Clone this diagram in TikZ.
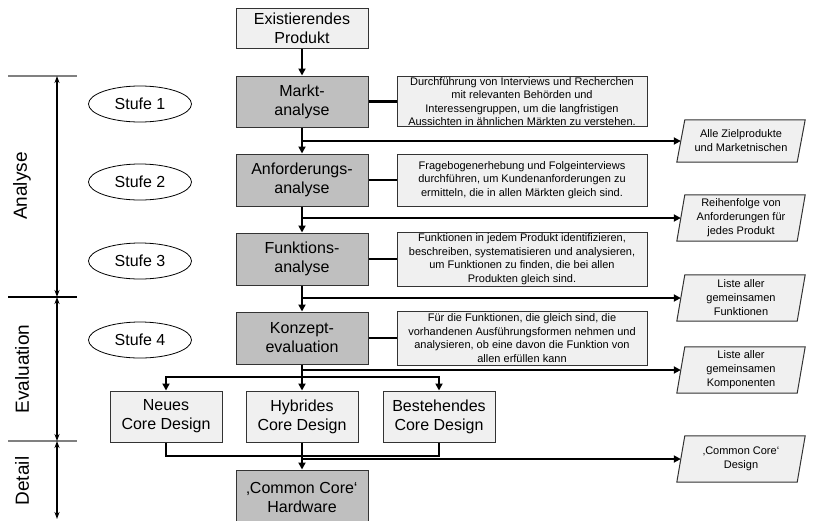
\documentclass[tikz,border=0pt]{standalone}
\usepackage{fontspec}
\setmainfont{Liberation Sans}
\usetikzlibrary{arrows.meta,calc,backgrounds,shapes.geometric}

\tikzset{
  boxbase/.style={draw=black!80, line width=1pt, align=center, inner sep=0pt,
    font=\fontsize{16}{19}\selectfont},
  lightbox/.style={boxbase, fill=gray!12, minimum width=132},
  darkbox/.style={boxbase, fill=gray!50, minimum width=132},
  designbox/.style={boxbase, fill=gray!12, minimum width=112, minimum height=51},
  desc/.style={draw=black!80, line width=1pt, fill=gray!12, align=center, inner sep=0pt,
    minimum width=250, font=\fontsize{11}{13.5}\selectfont},
  outbox/.style={align=center, inner sep=0pt, minimum width=120,
    font=\fontsize{11}{14}\selectfont},
  parashape/.style={draw=black!80, line width=1pt, fill=gray!12},
  stufe/.style={draw=black, line width=0.8pt, ellipse, minimum width=103, minimum height=36,
    inner sep=0pt, font=\fontsize{16}{19}\selectfont},
  phaselabel/.style={rotate=90, inner sep=0pt, font=\fontsize{19}{22}\selectfont},
  conn/.style={line width=2.2pt, -{Triangle[length=7pt,width=7pt]}},
  link/.style={line width=2.2pt},
  phasearrow/.style={line width=1.8pt, {Stealth[length=7pt,width=5pt]}-{Stealth[length=7pt,width=5pt]}},
  sepline/.style={line width=1.2pt},
}

\begin{document}
\begin{tikzpicture}[x=1pt, y=-1pt]
\useasboundingbox (0,0) rectangle (818,520);
\clip (0,0) rectangle (818,520);

% main column
\node[lightbox, minimum height=40] (ex) at (302,28) {Existierendes\\Produkt};
\node[darkbox, minimum height=51] (markt) at (302,101.5) {Markt-\\analyse};
\node[darkbox, minimum height=52] (anf) at (302,180) {Anforderungs-\\analyse};
\node[darkbox, minimum height=52] (funk) at (302,259) {Funktions-\\analyse};
\node[darkbox, minimum height=52] (konz) at (302,338) {Konzept-\\evaluation};
\node[darkbox, minimum height=54] (cch) at (302,497) {‚Common Core‘\\Hardware};

% design alternatives
\node[designbox] (neu) at (166,416.5) {Neues\\Core Design};
\node[designbox] (hyb) at (302,416.5) {Hybrides\\Core Design};
\node[designbox] (best) at (439,416.5) {Bestehendes\\Core Design};

% descriptions of the stages
\node[desc, minimum height=50] (d1) at (522,101.5) {Durchführung von Interviews und Recherchen\\mit relevanten Behörden und\\Interessengruppen, um die langfristigen\\Aussichten in ähnlichen Märkten zu verstehen.};
\node[desc, minimum height=52] (d2) at (522,180) {Fragebogenerhebung und Folgeinterviews\\durchführen, um Kundenanforderungen zu\\ermitteln, die in allen Märkten gleich sind.};
\node[desc, minimum height=54] (d3) at (522,259) {Funktionen in jedem Produkt identifizieren,\\beschreiben, systematisieren und analysieren,\\um Funktionen zu finden, die bei allen\\Produkten gleich sind.};
\node[desc, minimum height=54] (d4) at (522,338) {Für die Funktionen, die gleich sind, die\\vorhandenen Ausführungsformen nehmen und\\analysieren, ob eine davon die Funktion von\\allen erfüllen kann};

% results
\node[outbox, minimum height=42] (p1) at (741,141) {Alle Zielprodukte\\und Marketnischen};
\node[outbox, minimum height=46] (p2) at (741,218) {Reihenfolge von\\Anforderungen für\\jedes Produkt};
\node[outbox, minimum height=46] (p3) at (741,298) {Liste aller\\gemeinsamen\\Funktionen};
\node[outbox, minimum height=46] (p4) at (741,370) {Liste aller\\gemeinsamen\\Komponenten};
\node[outbox, minimum height=46] (p5) at (741,459) {‚Common Core‘\\Design};

\begin{scope}[on background layer]
  \foreach \p in {p1,p2,p3,p4,p5}
    \draw[parashape] ($(\p.south west)+(-4,0)$) -- ($(\p.north west)+(4,0)$)
      -- ($(\p.north east)+(4,0)$) -- ($(\p.south east)+(-4,0)$) -- cycle;
\end{scope}

% stages
\node[stufe] (s1) at (140,104) {Stufe 1};
\node[stufe] (s2) at (140,182) {Stufe 2};
\node[stufe] (s3) at (140,261) {Stufe 3};
\node[stufe] (s4) at (140,340) {Stufe 4};

% phases
\coordinate (ph0) at (57,76);
\coordinate (ph1) at (57,297);
\coordinate (ph2) at (57,441);
\coordinate (ph3) at (57,519);
\draw[sepline, gray] (8,76) -- (77,76);
\draw[sepline, black] (8,297) -- (77,297);
\draw[sepline, gray] (8,441) -- (77,441);
\draw[phasearrow] (ph0) -- (ph1);
\draw[phasearrow] (ph1) -- (ph2);
\draw[phasearrow] (ph2) -- (ph3);
\node[phaselabel] (lA) at (22,186) {Analyse};
\node[phaselabel] (lE) at (22,369) {Evaluation};
\node[phaselabel] (lD) at (22,481) {Detail};

% flow
\draw[conn] (ex) -- (markt);
\draw[conn] (markt) -- (anf);
\draw[conn] (anf) -- (funk);
\draw[conn] (funk) -- (konz);
\draw[link] (markt.east) -- (markt.east -| d1.west);
\draw[link] (anf.east) -- (anf.east -| d2.west);
\draw[link] (funk.east) -- (funk.east -| d3.west);
\draw[link] (konz.east) -- (konz.east -| d4.west);
\draw[conn] (markt.south |- p1.west) -- (p1.west);
\draw[conn] (anf.south |- p2.west) -- (p2.west);
\draw[conn] (funk.south |- p3.west) -- (p3.west);

% split into the three design alternatives
\coordinate (split) at (302,377);
\draw[link] (konz.south) -- (split);
\draw[conn] (konz.south |- p4.west) -- (p4.west);
\draw[conn] (split) -| (neu.north);
\draw[conn] (split) -| (best.north);
\draw[conn] (split) -- (hyb.north);

% merge into the common core
\coordinate (merge) at (302,456);
\draw[link] (neu.south) |- (merge);
\draw[link] (best.south) |- (merge);
\draw[conn] (hyb.south) -- (cch.north);
\draw[conn] (hyb.south |- p5.west) -- (p5.west);
\end{tikzpicture}
\end{document}
